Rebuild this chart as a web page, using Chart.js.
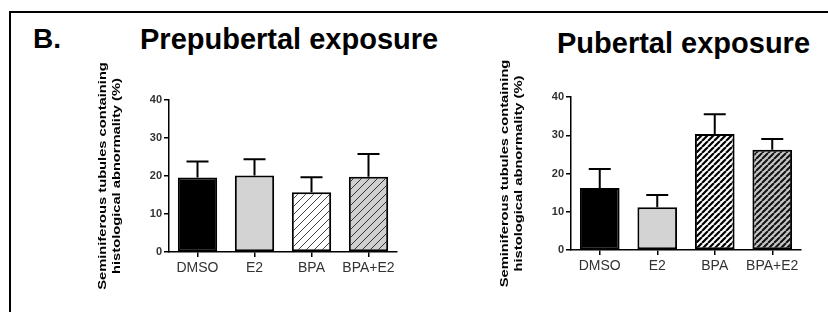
<!DOCTYPE html>
<html lang="en">
  <head>
    <meta charset="UTF-8" />
    <title>Seminiferous tubules – prepubertal vs pubertal exposure</title>
    <script src="https://cdn.jsdelivr.net/npm/chart.js"></script>
    <style>
      body {
        margin: 0;
        width: 828px;
        height: 312px;
        overflow: hidden;
        background: #fff;
        position: relative;
        font-family: "Liberation Sans", Arial, sans-serif;
      }
      .frame {
        position: absolute;
        left: 9px;
        top: 11px;
        width: 1000px;
        height: 500px;
        border: 2px solid #000;
      }
      .head {
        position: absolute;
        font-weight: bold;
        line-height: 1;
        white-space: nowrap;
        color: #000;
      }
      .chart-box {
        position: absolute;
      }
    </style>
  </head>
  <body>
    <div class="frame"></div>
    <div class="head" style="left: 33px; top: 25px; font-size: 28px">B.</div>
    <div class="head" style="left: 140px; top: 25px; font-size: 29px">Prepubertal exposure</div>
    <div class="head" style="left: 557px; top: 29px; font-size: 29px">Pubertal exposure</div>

    <div class="chart-box" style="left: 80px; top: 60px; width: 330px; height: 245px">
      <canvas id="preChart"></canvas>
    </div>
    <div class="chart-box" style="left: 480px; top: 57px; width: 340px; height: 245px">
      <canvas id="pubChart"></canvas>
    </div>

    <script>
      // data (mean and SEM, %)
      const groups = ["DMSO", "E2", "BPA", "BPA+E2"];
      const prepubertalMean = [19.6, 20.1, 15.7, 19.8];
      const prepubertalSem = [4.2, 4.3, 4.0, 6.0];
      const pubertalMean = [16.2, 11.2, 30.3, 26.2];
      const pubertalSem = [5.0, 3.2, 5.2, 2.8];
      const yTicks = [0, 10, 20, 30, 40];
      const yTitle = ["Seminiferous tubules containing", "histological abnormality (%)"];

      const narrowFont = "'Liberation Sans Narrow', 'Arial Narrow', 'Liberation Sans', Arial, sans-serif";
      const baseFont = "'Liberation Sans', Arial, sans-serif";

      // diagonal hatch fill
      function hatch(ctx, bg, line, width, size) {
        const c = document.createElement("canvas");
        c.width = c.height = size;
        const g = c.getContext("2d");
        g.fillStyle = bg;
        g.fillRect(0, 0, size, size);
        g.strokeStyle = line;
        g.lineWidth = width;
        g.beginPath();
        for (const k of [-size, 0, size]) {
          g.moveTo(k, size);
          g.lineTo(k + size, 0);
        }
        g.stroke();
        return ctx.createPattern(c, "repeat");
      }

      const errorBars = {
        id: "errorBars",
        afterDatasetsDraw(chart, args, opts) {
          const { ctx } = chart;
          const y = chart.scales.y;
          const values = chart.data.datasets[0].data;
          ctx.save();
          ctx.strokeStyle = "#000";
          ctx.lineWidth = 2;
          chart.getDatasetMeta(0).data.forEach((bar, i) => {
            const top = y.getPixelForValue(values[i] + opts.sem[i]);
            ctx.beginPath();
            ctx.moveTo(bar.x, bar.y);
            ctx.lineTo(bar.x, top);
            ctx.moveTo(bar.x - 11, top);
            ctx.lineTo(bar.x + 11, top);
            ctx.stroke();
          });
          ctx.restore();
        },
      };

      // rotated, slightly squeezed axis title like the GraphPad export
      const axisTitle = {
        id: "axisTitle",
        afterDraw(chart, args, opts) {
          const { ctx, chartArea } = chart;
          const mid = (chartArea.top + chartArea.bottom) / 2;
          ctx.save();
          ctx.fillStyle = "#000";
          ctx.font = "bold 14.7px " + baseFont;
          ctx.textAlign = "center";
          ctx.textBaseline = "middle";
          opts.lines.forEach((text, i) => {
            ctx.save();
            ctx.translate(chartArea.left - opts.offsets[i], mid);
            ctx.rotate(-Math.PI / 2);
            ctx.scale(1, 0.8);
            ctx.fillText(text, 0, 0);
            ctx.restore();
          });
          ctx.restore();
        },
      };

      function makeChart(id, means, sem, fills, box) {
        const ctx = document.getElementById(id).getContext("2d");
        return new Chart(ctx, {
          type: "bar",
          data: {
            labels: groups,
            datasets: [
              {
                data: means,
                backgroundColor: fills(ctx),
                borderColor: "#000",
                borderWidth: 2,
                borderSkipped: false,
                categoryPercentage: 1,
                barPercentage: 0.69,
              },
            ],
          },
          options: {
            responsive: true,
            maintainAspectRatio: false,
            animation: false,
            layout: { padding: { top: 40, right: box.right, left: 0, bottom: 0 } },
            plugins: {
              legend: { display: false },
              tooltip: { enabled: false },
              errorBars: { sem: sem },
              axisTitle: { lines: yTitle, offsets: [66, 52] },
            },
            scales: {
              x: {
                afterFit: (s) => (s.height = box.xHeight),
                grid: { drawOnChartArea: false, offset: false, tickLength: 5, color: "#000", lineWidth: 1.5 },
                border: { color: "#000", width: 1.5 },
                ticks: {
                  color: "#333",
                  padding: 3,
                  maxRotation: 0,
                  minRotation: 0,
                  autoSkip: false,
                  font: { family: narrowFont, size: 14 },
                },
              },
              y: {
                min: 0,
                max: 40,
                afterFit: (s) => (s.width = box.yWidth),
                afterBuildTicks: (s) => (s.ticks = yTicks.map((v) => ({ value: v }))),
                grid: { drawOnChartArea: false, tickLength: 5, color: "#000", lineWidth: 1.5 },
                border: { color: "#000", width: 1.5 },
                ticks: { color: "#333", padding: 2, font: { family: baseFont, size: 11, weight: "bold" } },
              },
            },
          },
          plugins: [errorBars, axisTitle],
        });
      }

      makeChart(
        "preChart",
        prepubertalMean,
        prepubertalSem,
        (ctx) => [
          "#000",
          "#d3d3d3",
          hatch(ctx, "#fff", "#444", 1, 8),
          hatch(ctx, "#cfcfcf", "#333", 1, 8),
        ],
        { right: 13, yWidth: 89, xHeight: 53 }
      );

      makeChart(
        "pubChart",
        pubertalMean,
        pubertalSem,
        (ctx) => [
          "#000",
          "#d3d3d3",
          hatch(ctx, "#fff", "#000", 2.2, 6),
          hatch(ctx, "#c4c4c4", "#111", 2, 6),
        ],
        { right: 19, yWidth: 91, xHeight: 52 }
      );
    </script>
  </body>
</html>
